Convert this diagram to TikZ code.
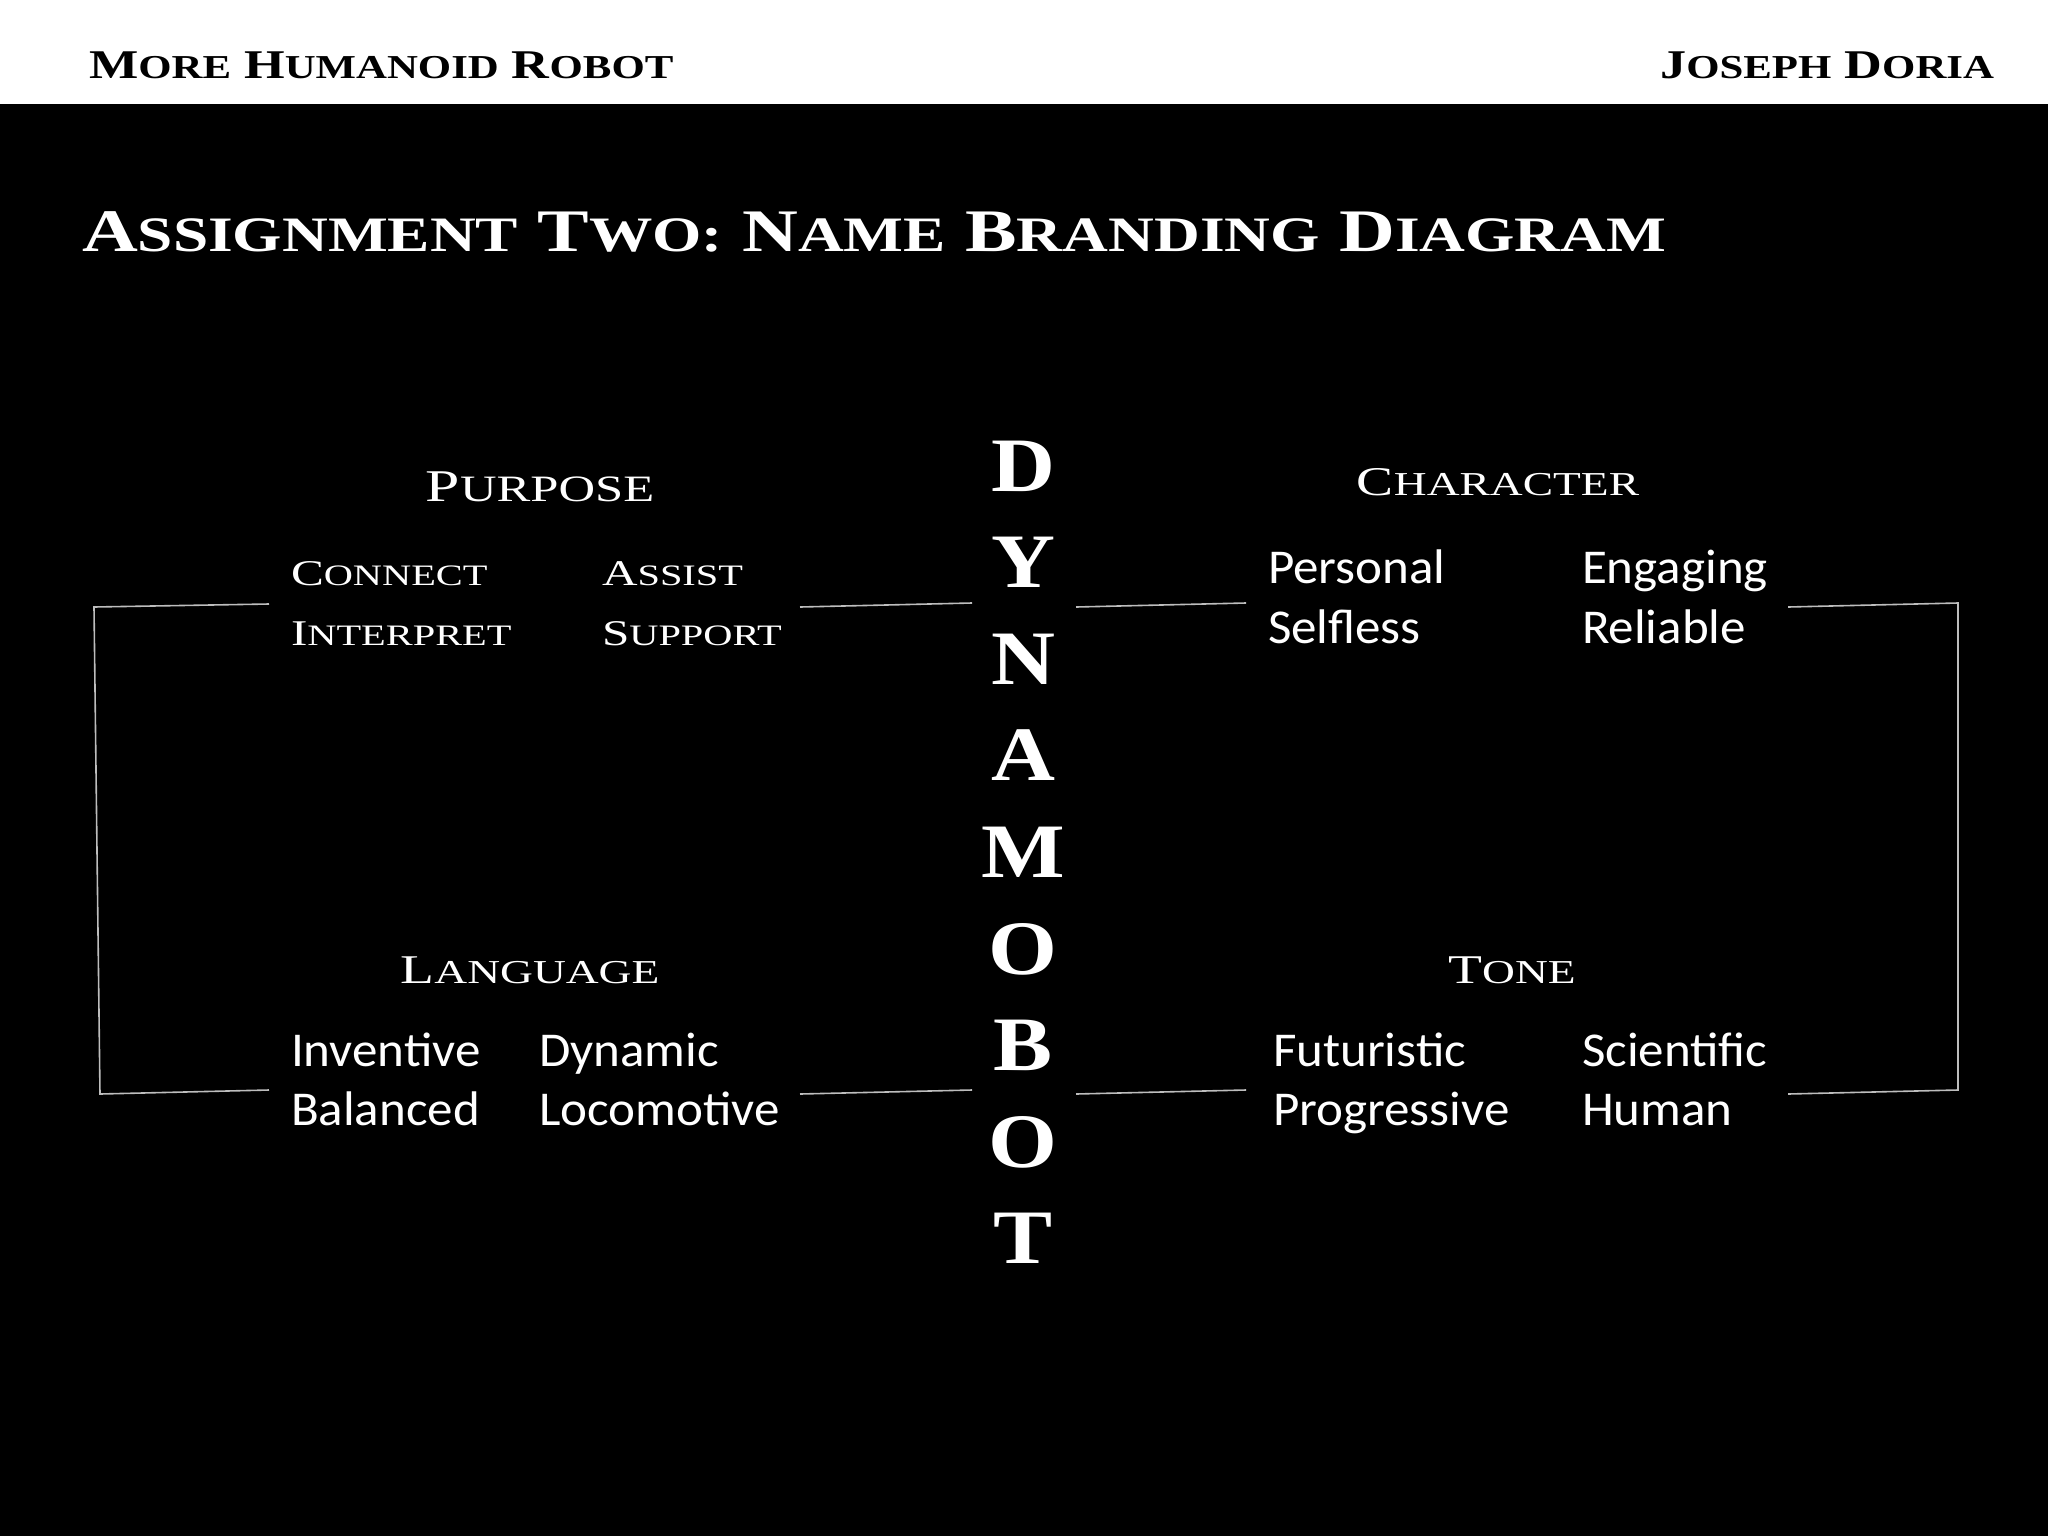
\documentclass[tikz,border=0pt]{standalone}
\usepackage{fontspec}
\usepackage{graphicx}
\setmainfont{Liberation Serif}
\newfontfamily\cplfont[FakeStretch=1.28]{Liberation Serif}
\newfontfamily\cplbig[FakeStretch=1.15]{Liberation Serif}
\newfontfamily\cpllight[FakeStretch=1.36]{Liberation Serif}
\newfontfamily\calfont[FakeStretch=1.05]{Carlito}
\newcommand\SCw[2]{#1\scalebox{0.82}{#2}}
\definecolor{linegray}{HTML}{BDBDBD}
\tikzset{
  txt/.style={text=white, inner sep=0pt, outer sep=0pt},
  hdr/.style={inner sep=0pt, outer sep=0pt, text=black, font=\cplfont\bfseries\fontsize{20.4}{24}\selectfont},
  ttl/.style={txt, font=\cplfont\bfseries\fontsize{30.2}{36}\selectfont},
  cat/.style={txt, anchor=base, font=\cpllight\fontsize{20.4}{24}\selectfont},
  kw/.style={txt, anchor=base west, font=\cpllight\fontsize{18.1}{22}\selectfont},
  word/.style={txt, anchor=base west, font=\calfont\fontsize{24.3}{28}\selectfont},
  big/.style={txt, anchor=base, font=\cplbig\bfseries\fontsize{38.5}{44}\selectfont},
  conn/.style={draw=linegray, line width=0.8pt}
}
\begin{document}
\begin{tikzpicture}[x=0.5pt,y=-0.5pt]
\fill[white] (0,0) rectangle (2048,104);
\fill[black] (0,104) rectangle (2048,1536);
\useasboundingbox (0,0) rectangle (2048,1536);
% header
\node[hdr, anchor=base west] (hl) at (89,78.7) {\SCw{M}{ORE} \SCw{H}{UMANOID} \SCw{R}{OBOT}};
\node[hdr, anchor=base east] (hr) at (1994,78.7) {\SCw{J}{OSEPH} \SCw{D}{ORIA}};
% title
\node[ttl, anchor=base west] (title) at (82,251.7) {\SCw{A}{SSIGNMENT} \SCw{T}{WO:} \SCw{N}{AME} \SCw{B}{RANDING} \SCw{D}{IAGRAM}};
% DYNAMOBOT
\foreach \L [count=\i from 0] in {D,Y,N,A,M,O,B,O,T} {
  \node[big] (dy\i) at (1023,{491+96.6*\i}) {\L};
}
% Purpose
\node[cat, font=\cpllight\fontsize{22.7}{26}\selectfont] (purpose) at (540,501.7) {\SCw{P}{URPOSE}};
\node[kw] (connect) at (291,585.7) {\SCw{C}{ONNECT}};
\node[kw] (assist) at (602,585.7) {\SCw{A}{SSIST}};
\node[kw] (interpret) at (291,645.7) {\SCw{I}{NTERPRET}};
\node[kw] (support) at (602,645.7) {\SCw{S}{UPPORT}};
% Character
\node[cat] (character) at (1498,495.5) {\SCw{C}{HARACTER}};
\node[word] (personal) at (1268,583.3) {Personal};
\node[word] (engaging) at (1582,583.3) {Engaging};
\node[word] (selfless) at (1268,643.3) {Selfless};
\node[word] (reliable) at (1582,643.3) {Reliable};
% Language
\node[cat] (language) at (530,983.3) {\SCw{L}{ANGUAGE}};
\node[word] (inventive) at (291,1066) {Inventive};
\node[word] (dynamic) at (539,1066) {Dynamic};
\node[word] (balanced) at (291,1125) {Balanced};
\node[word] (locomotive) at (539,1125) {Locomotive};
% Tone
\node[cat] (tone) at (1512,983.3) {\SCw{T}{ONE}};
\node[word] (futuristic) at (1273,1066) {Futuristic};
\node[word] (scientific) at (1582,1066) {Scientific};
\node[word] (progressive) at (1273,1125) {Progressive};
\node[word] (human) at (1582,1125) {Human};
% connector points
\coordinate (pl1) at (94,607);   \coordinate (pl2) at (269,604);
\coordinate (pm1) at (800,607);  \coordinate (pm2) at (972,603);
\coordinate (cm1) at (1076,607); \coordinate (cm2) at (1246,603);
\coordinate (cr1) at (1788,607); \coordinate (cr2) at (1958,603);
\coordinate (ll1) at (100,1094); \coordinate (ll2) at (269,1090);
\coordinate (lm1) at (800,1094); \coordinate (lm2) at (972,1090);
\coordinate (tm1) at (1076,1094);\coordinate (tm2) at (1246,1090);
\coordinate (tr1) at (1788,1094);\coordinate (tr2) at (1958,1090);
\draw[conn] (pl2) -- (pl1) -- (ll1) -- (ll2);
\draw[conn] (pm1) -- (pm2);
\draw[conn] (cm1) -- (cm2);
\draw[conn] (cr1) -- (cr2) -- (tr2) -- (tr1);
\draw[conn] (lm1) -- (lm2);
\draw[conn] (tm1) -- (tm2);
\end{tikzpicture}
\end{document}
